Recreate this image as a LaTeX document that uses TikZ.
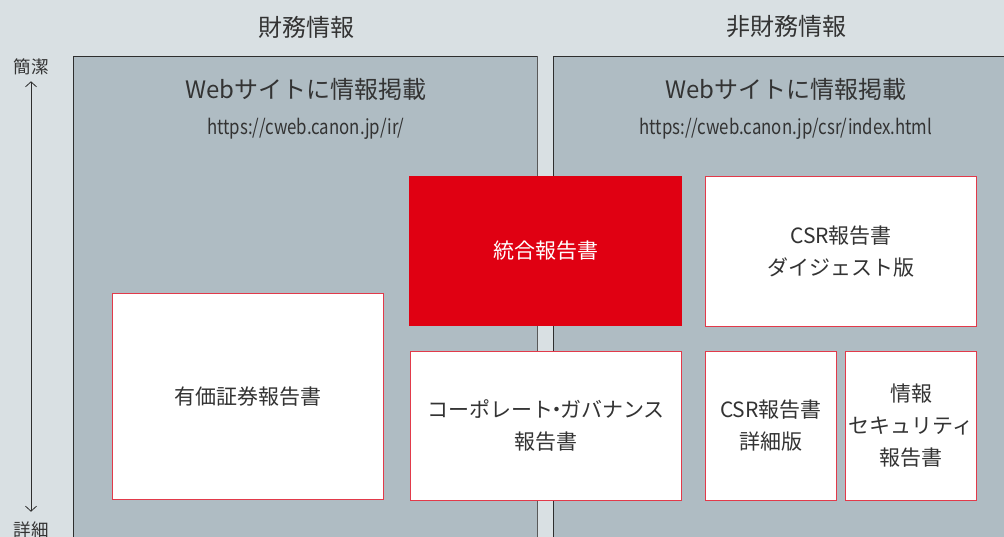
\documentclass[tikz,border=0pt]{standalone}
\usepackage{fontspec}
\setmainfont{Noto Sans CJK JP}
\newfontfamily\urlfont[FakeStretch=0.82]{Noto Sans CJK JP}
\usetikzlibrary{arrows.meta}
\definecolor{bgc}{HTML}{D9E0E3}
\definecolor{panelc}{HTML}{AFBCC3}
\definecolor{redc}{HTML}{E00012}
\definecolor{borderc}{HTML}{E23A4A}
\definecolor{txtc}{HTML}{333333}
\definecolor{edgec}{HTML}{2E2E2E}
\tikzset{
  panel/.style={fill=panelc, draw=none},
  wbox/.style={fill=white, draw=borderc, line width=1pt, outer sep=0pt, align=center, text=txtc, font=\fontsize{21}{32}\selectfont, inner sep=0pt},
  rbox/.style={fill=redc, draw=none, outer sep=0pt, align=center, text=white, font=\fontsize{21}{32}\selectfont, inner sep=0pt},
  head/.style={text=txtc, font=\fontsize{24}{28}\selectfont, inner sep=0pt},
  urltext/.style={text=txtc, font=\urlfont\fontsize{20.5}{24}\selectfont, inner sep=0pt},
  side/.style={text=txtc, font=\fontsize{17.5}{20}\selectfont, inner sep=0pt},
}
\begin{document}
\begin{tikzpicture}[x=1pt,y=-1pt]
\fill[bgc] (0,0) rectangle (1004,537);
\useasboundingbox (0,0) rectangle (1004,537);
% panels
\fill[panelc] (73,56) rectangle (538,537);
\fill[panelc] (553,56) rectangle (1004,537);
\draw[edgec, line width=1pt] (73.5,537) -- (73.5,56.5) -- (537.5,56.5);
\draw[gray!70!black, line width=1.5pt] (537.5,56.5) -- (537.5,537);
\draw[edgec, line width=1pt] (553.5,537) -- (553.5,56.5) -- (1004,56.5);
% headings
\node[head] (fin) at (306,27) {財務情報};
\node[head] (nonfin) at (786,27) {非財務情報};
\node[head] (webL) at (306,89) {Webサイトに情報掲載};
\node[urltext] (urlL) at (306,129) {https://cweb.canon.jp/ir/};
\node[head] (webR) at (786,89) {Webサイトに情報掲載};
\node[urltext] (urlR) at (786,129) {https://cweb.canon.jp/csr/index.html};
% boxes
\node[rbox, minimum width=273pt, minimum height=150pt, anchor=north west] (ir) at (409,176) {統合報告書};
\node[wbox, minimum width=271pt, minimum height=150pt, anchor=north west] (dig) at (705.5,176.5) {CSR報告書\\ダイジェスト版};
\node[wbox, minimum width=271pt, minimum height=206pt, anchor=north west] (yuka) at (112.5,293.5) {有価証券報告書};
\node[wbox, minimum width=271pt, minimum height=149pt, anchor=north west] (cg) at (410.5,351.5) {コーポレート\kern-7pt・\kern-7ptガバナンス\\報告書};
\node[wbox, minimum width=131pt, minimum height=149pt, anchor=north west] (det) at (705.5,351.5) {CSR報告書\\詳細版};
\node[wbox, minimum width=131pt, minimum height=149pt, anchor=north west] (sec) at (845.5,351.5) {情報\\セキュリティ\\報告書};
% side arrow
\node[side] (kan) at (31,67) {簡潔};
\node[side] (shou) at (31,530) {詳細};
\draw[edgec, line width=0.8pt, {Straight Barb[length=5pt,width=11pt]}-{Straight Barb[length=5pt,width=11pt]}] ([yshift=-6pt]kan.south) -- ([yshift=10pt]shou.north);
\end{tikzpicture}
\end{document}
